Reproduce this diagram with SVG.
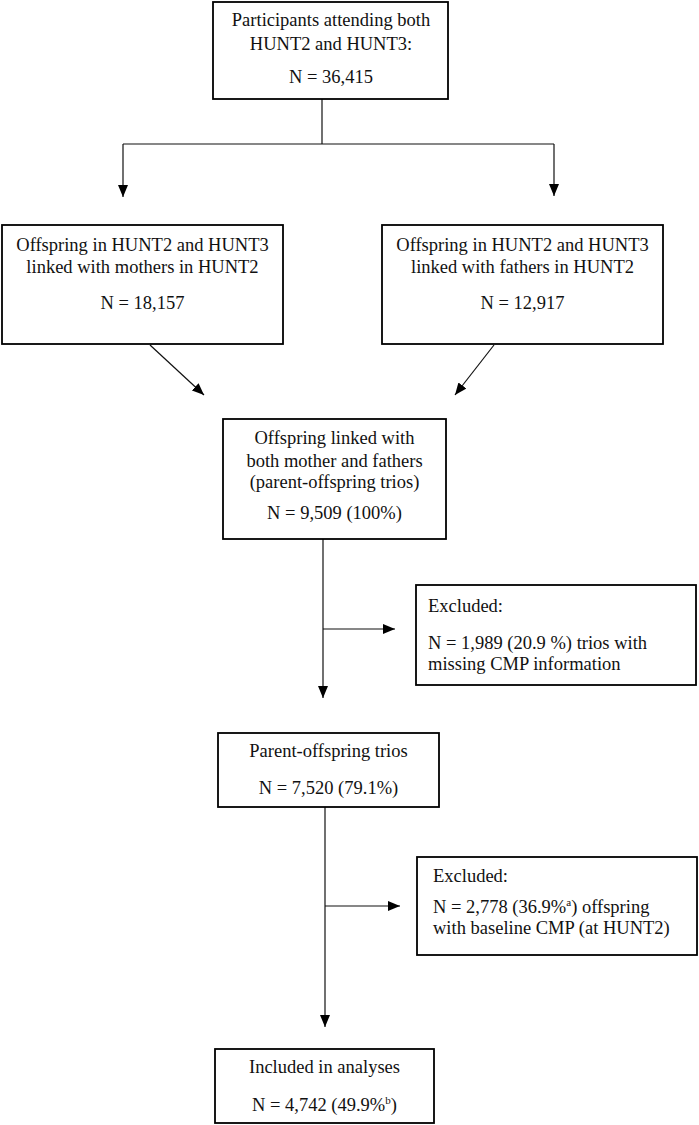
<svg xmlns="http://www.w3.org/2000/svg" width="699" height="1125" viewBox="0 0 699 1125">
<style>
.box{fill:#fff;stroke:#000;stroke-width:1.8}
.t{font-family:"Liberation Serif","Times New Roman",serif;font-size:18.5px;fill:#111}
.c{text-anchor:middle}
.ln{fill:none;stroke:#111;stroke-width:1.2}
.sup{font-size:11px}
</style>
<defs>
<marker id="ah" viewBox="0 0 12 10" refX="12" refY="5" markerWidth="12" markerHeight="10" markerUnits="userSpaceOnUse" orient="auto">
<path d="M0,0 L12,5 L0,10 Z" fill="#000"/>
</marker>
</defs>
<rect width="699" height="1125" fill="#fff"/>
<g id="connectors">
<path class="ln" d="M322,99 V144"/>
<path class="ln" d="M123,144 H554"/>
<path class="ln" d="M123,144 V197" marker-end="url(#ah)"/>
<path class="ln" d="M554,144 V196" marker-end="url(#ah)"/>
<path class="ln" d="M150,345 L204,395" marker-end="url(#ah)"/>
<path class="ln" d="M494,345 L455,395" marker-end="url(#ah)"/>
<path class="ln" d="M323,539 V698" marker-end="url(#ah)"/>
<path class="ln" d="M323,629 H395" marker-end="url(#ah)"/>
<path class="ln" d="M325,807 V1027" marker-end="url(#ah)"/>
<path class="ln" d="M325,906 H400" marker-end="url(#ah)"/>
</g>
<g id="n_participants">
<rect class="box" x="213" y="2" width="235" height="97"/>
<text class="t c" x="331" y="26">Participants attending both</text>
<text class="t c" x="331" y="50">HUNT2 and HUNT3:</text>
<text class="t c" x="331" y="83">N = 36,415</text>
</g>
<g id="n_mothers">
<rect class="box" x="2" y="225" width="281" height="119"/>
<text class="t c" x="142.5" y="251">Offspring in HUNT2 and HUNT3</text>
<text class="t c" x="142.5" y="273">linked with mothers in HUNT2</text>
<text class="t c" x="142.5" y="309">N = 18,157</text>
</g>
<g id="n_fathers">
<rect class="box" x="382" y="225" width="281" height="119"/>
<text class="t c" x="522.5" y="251">Offspring in HUNT2 and HUNT3</text>
<text class="t c" x="522.5" y="273">linked with fathers in HUNT2</text>
<text class="t c" x="522.5" y="309">N = 12,917</text>
</g>
<g id="n_trios">
<rect class="box" x="223" y="419" width="223" height="120"/>
<text class="t c" x="334.5" y="444">Offspring linked with</text>
<text class="t c" x="334.5" y="467">both mother and fathers</text>
<text class="t c" x="334.5" y="488">(parent-offspring trios)</text>
<text class="t c" x="334.5" y="519">N = 9,509 (100%)</text>
</g>
<g id="n_excluded1">
<rect class="box" x="416" y="585" width="280" height="100"/>
<text class="t" x="428" y="612">Excluded:</text>
<text class="t" x="428" y="649">N = 1,989 (20.9 %) trios with</text>
<text class="t" x="428" y="670">missing CMP information</text>
</g>
<g id="n_parent_trios">
<rect class="box" x="218" y="733" width="221" height="74"/>
<text class="t c" x="328.5" y="757">Parent-offspring trios</text>
<text class="t c" x="328.5" y="794">N = 7,520 (79.1%)</text>
</g>
<g id="n_excluded2">
<rect class="box" x="417" y="857" width="280" height="98"/>
<text class="t" x="433" y="882">Excluded:</text>
<text class="t" x="433" y="913">N = 2,778 (36.9%<tspan class="sup" dy="-7">a</tspan><tspan dy="7">) offspring</tspan></text>
<text class="t" x="433" y="934">with baseline CMP (at HUNT2)</text>
</g>
<g id="n_included">
<rect class="box" x="215" y="1049" width="219" height="74"/>
<text class="t c" x="324.5" y="1073">Included in analyses</text>
<text class="t c" x="324.5" y="1111">N = 4,742 (49.9%<tspan class="sup" dy="-7">b</tspan><tspan dy="7">)</tspan></text>
</g>
</svg>
